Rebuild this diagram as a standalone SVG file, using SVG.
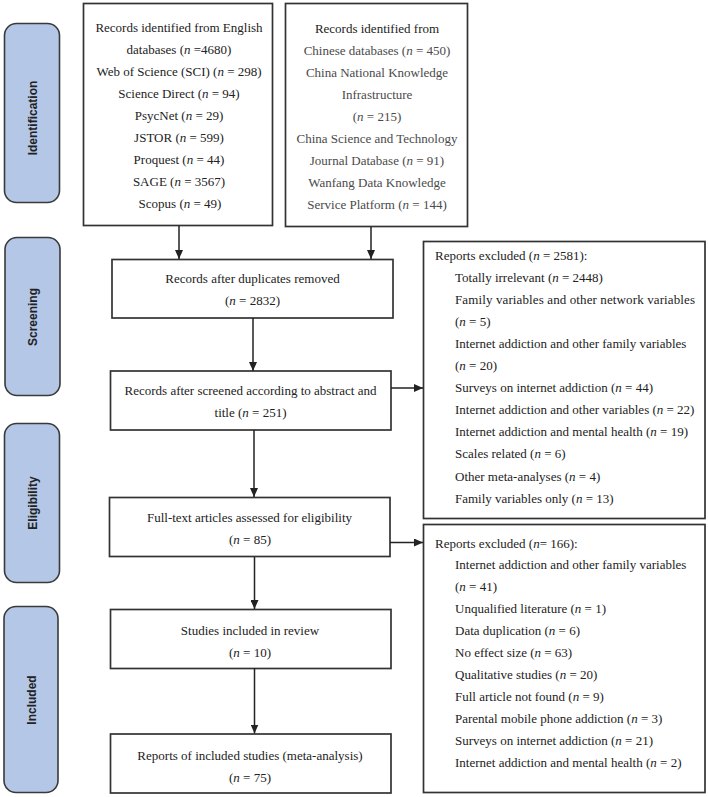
<svg xmlns="http://www.w3.org/2000/svg" width="708" height="797" viewBox="0 0 708 797">
<style>
.bg{fill:#ffffff}
.phase{fill:#b4c7e7;stroke:#3a3a3a;stroke-width:1.6}
.plabel{font-family:"Liberation Sans",Arial,sans-serif;font-weight:bold;font-size:12px;fill:#222;text-anchor:middle}
.box{fill:#ffffff;stroke:#333;stroke-width:1.7}
.t{font-family:"Liberation Serif","Times New Roman",serif;font-size:13px;fill:#222}
.c{text-anchor:middle}
.g{fill:#4a4a4a}
.i{font-style:italic}
.conn{stroke:#222;stroke-width:1.5;fill:none;marker-end:url(#ah)}
</style>
<defs>
<marker id="ah" markerWidth="9" markerHeight="8" refX="9" refY="4" orient="auto" markerUnits="userSpaceOnUse">
<path d="M0,0 L9,4 L0,8 z" fill="#222"/>
</marker>
</defs>
<rect class="bg" x="0" y="0" width="708" height="797"/>

<g id="phase-identification">
<rect class="phase" x="4.5" y="23.5" width="55" height="179" rx="12"/>
<text class="plabel" transform="translate(36.5,118) rotate(-90)">Identification</text>
</g>
<g id="phase-screening">
<rect class="phase" x="5" y="237.5" width="55" height="158" rx="12"/>
<text class="plabel" transform="translate(36.5,317) rotate(-90)">Screening</text>
</g>
<g id="phase-eligibility">
<rect class="phase" x="4.5" y="423.5" width="55" height="159" rx="12"/>
<text class="plabel" transform="translate(36.5,503) rotate(-90)">Eligibility</text>
</g>
<g id="phase-included">
<rect class="phase" x="4" y="606.5" width="54" height="186" rx="12"/>
<text class="plabel" transform="translate(36,700) rotate(-90)">Included</text>
</g>

<g id="english-db">
<rect class="box" x="83.5" y="3.5" width="189" height="222"/>
<text class="t c" x="179" y="31.5">Records identified from English</text>
<text class="t c" x="179" y="53.5">databases (<tspan class="i">n</tspan> =4680)</text>
<text class="t c" x="179" y="75.5">Web of Science (SCI) (<tspan class="i">n</tspan> = 298)</text>
<text class="t c" x="179" y="97.5">Science Direct (<tspan class="i">n</tspan> = 94)</text>
<text class="t c" x="179" y="119.5">PsycNet (<tspan class="i">n</tspan> = 29)</text>
<text class="t c" x="179" y="141.5">JSTOR (<tspan class="i">n</tspan> = 599)</text>
<text class="t c" x="179" y="163.5">Proquest (<tspan class="i">n</tspan> = 44)</text>
<text class="t c" x="179" y="185.5">SAGE (<tspan class="i">n</tspan> = 3567)</text>
<text class="t c" x="180" y="207.5">Scopus (<tspan class="i">n</tspan> = 49)</text>
</g>

<g id="chinese-db">
<rect class="box" x="285.5" y="3.5" width="182" height="223"/>
<text class="t c" x="377" y="32.5">Records identified from</text>
<text class="t c g" x="377" y="54.5">Chinese databases (<tspan class="i">n</tspan> = 450)</text>
<text class="t c g" x="377" y="76.5">China National Knowledge</text>
<text class="t c g" x="377" y="98.5">Infrastructure</text>
<text class="t c g" x="377" y="120.5">(<tspan class="i">n</tspan> = 215)</text>
<text class="t c g" x="377" y="142.5">China Science and Technology</text>
<text class="t c g" x="377" y="164.5">Journal Database (<tspan class="i">n</tspan> = 91)</text>
<text class="t c g" x="377" y="186.5">Wanfang Data Knowledge</text>
<text class="t c g" x="377" y="208.5">Service Platform (<tspan class="i">n</tspan> = 144)</text>
</g>

<g id="dedup">
<rect class="box" x="112" y="259.5" width="281" height="58.5"/>
<text class="t c" x="252.5" y="282.5">Records after duplicates removed</text>
<text class="t c" x="252.5" y="305">(<tspan class="i">n</tspan> = 2832)</text>
</g>

<g id="screened">
<rect class="box" x="110.5" y="371" width="280.5" height="59"/>
<text class="t c" x="250.5" y="394.5">Records after screened according to abstract and</text>
<text class="t c" x="250.5" y="416.5">title (<tspan class="i">n</tspan> = 251)</text>
</g>

<g id="fulltext">
<rect class="box" x="109.5" y="497.5" width="280.5" height="59"/>
<text class="t c" x="249.5" y="521.5">Full-text articles assessed for eligibility</text>
<text class="t c" x="250" y="543.5">(<tspan class="i">n</tspan> = 85)</text>
</g>

<g id="included-review">
<rect class="box" x="110.5" y="609.5" width="280.5" height="59"/>
<text class="t c" x="250" y="634.5">Studies included in review</text>
<text class="t c" x="250" y="656.5">(<tspan class="i">n</tspan> = 10)</text>
</g>

<g id="meta-analysis">
<rect class="box" x="110.5" y="734" width="280.5" height="59"/>
<text class="t c" x="250" y="759.5">Reports of included studies (meta-analysis)</text>
<text class="t c" x="250" y="781.5">(<tspan class="i">n</tspan> = 75)</text>
</g>

<g id="excluded-1">
<rect class="box" x="423.5" y="241.5" width="281.5" height="277"/>
<text class="t" x="435" y="259.5">Reports excluded (<tspan class="i">n</tspan> = 2581):</text>
<text class="t" x="455" y="281.6">Totally irrelevant (<tspan class="i">n</tspan> = 2448)</text>
<text class="t" x="455" y="303.7" textLength="240" lengthAdjust="spacing">Family variables and other network variables</text>
<text class="t" x="455" y="325.8">(<tspan class="i">n</tspan> = 5)</text>
<text class="t" x="455" y="347.9">Internet addiction and other family variables</text>
<text class="t" x="455" y="370">(<tspan class="i">n</tspan> = 20)</text>
<text class="t" x="455" y="392.1">Surveys on internet addiction (<tspan class="i">n</tspan> = 44)</text>
<text class="t" x="455" y="414.2">Internet addiction and other variables (<tspan class="i">n</tspan> = 22)</text>
<text class="t" x="455" y="436.3">Internet addiction and mental health (<tspan class="i">n</tspan> = 19)</text>
<text class="t" x="455" y="458.4">Scales related (<tspan class="i">n</tspan> = 6)</text>
<text class="t" x="455" y="480.5">Other meta-analyses (<tspan class="i">n</tspan> = 4)</text>
<text class="t" x="455" y="502.6">Family variables only (<tspan class="i">n</tspan> = 13)</text>
</g>

<g id="excluded-2">
<rect class="box" x="423.5" y="524.5" width="281.5" height="268"/>
<text class="t" x="435" y="547.5">Reports excluded (<tspan class="i">n</tspan>= 166):</text>
<text class="t" x="455" y="569.4">Internet addiction and other family variables</text>
<text class="t" x="455" y="591.3">(<tspan class="i">n</tspan> = 41)</text>
<text class="t" x="455" y="613.2">Unqualified literature (<tspan class="i">n</tspan> = 1)</text>
<text class="t" x="455" y="635.1">Data duplication (<tspan class="i">n</tspan> = 6)</text>
<text class="t" x="455" y="657">No effect size (<tspan class="i">n</tspan> = 63)</text>
<text class="t" x="455" y="678.9">Qualitative studies (<tspan class="i">n</tspan> = 20)</text>
<text class="t" x="455" y="700.8">Full article not found (<tspan class="i">n</tspan> = 9)</text>
<text class="t" x="455" y="722.7">Parental mobile phone addiction (<tspan class="i">n</tspan> = 3)</text>
<text class="t" x="455" y="744.6">Surveys on internet addiction (<tspan class="i">n</tspan> = 21)</text>
<text class="t" x="455" y="766.5">Internet addiction and mental health (<tspan class="i">n</tspan> = 2)</text>
</g>

<g id="connectors">
<line class="conn" x1="179" y1="226" x2="179" y2="259"/>
<line class="conn" x1="371" y1="227" x2="371" y2="259"/>
<line class="conn" x1="253" y1="318" x2="253" y2="371"/>
<line class="conn" x1="254" y1="430" x2="254" y2="497"/>
<line class="conn" x1="254.5" y1="557" x2="254.5" y2="609"/>
<line class="conn" x1="254.5" y1="668" x2="254.5" y2="733.5"/>
<line class="conn" x1="391" y1="388" x2="423" y2="388"/>
<line class="conn" x1="390" y1="542.5" x2="423" y2="542.5"/>
</g>
</svg>
